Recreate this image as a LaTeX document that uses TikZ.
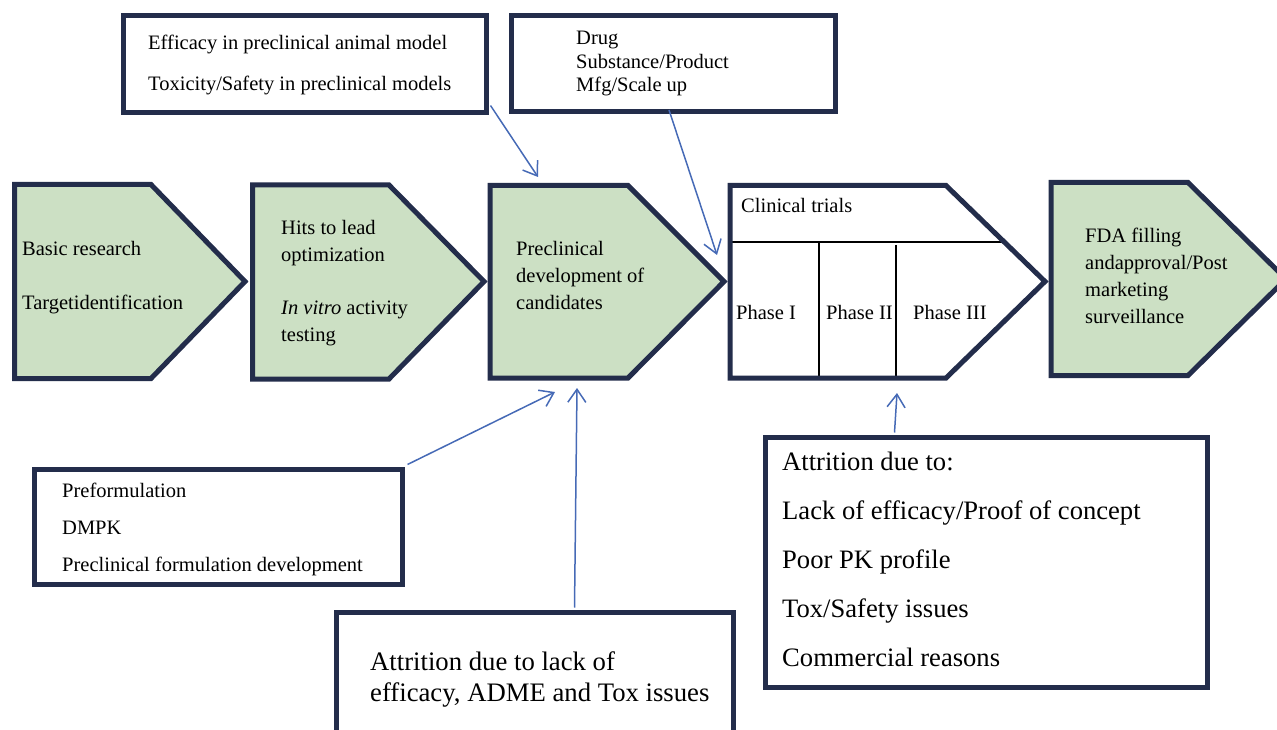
\documentclass[tikz,border=0pt]{standalone}
\usepackage{fontspec}
\setmainfont{Liberation Serif}
\usetikzlibrary{arrows.meta,calc}
\definecolor{navy}{RGB}{35,45,75}
\definecolor{sage}{RGB}{204,224,196}
\definecolor{arrowblue}{RGB}{70,106,182}
\begin{document}
\begin{tikzpicture}[x=1pt,y=-1pt,
  stage/.style={draw=navy,line width=5pt,fill=sage,line join=miter},
  trialshape/.style={draw=navy,line width=5pt,line join=miter},
  infobox/.style={draw=navy,line width=5pt,fill=white,inner sep=0pt},
  divider/.style={draw=black,line width=2pt},
  txt/.style={anchor=north west,inner sep=0pt,align=left,font=\fontsize{20.5}{27}\selectfont},
  bigtxt/.style={anchor=north west,inner sep=0pt,align=left,font=\fontsize{26.6}{49}\selectfont},
  link/.style={draw=arrowblue,line width=1.5pt,-{Straight Barb[length=13pt,width=18pt,line width=1.5pt]}}]
\useasboundingbox (0,0) rectangle (1277,730);
\clip (0,0) rectangle (1277,730);

% stage pentagons
\draw[stage] (14.5,184.5) -- (151,184.5) -- (245,281.5) -- (151,378.5) -- (14.5,378.5) -- cycle;
\draw[stage] (252.5,185) -- (389,185) -- (484,281.5) -- (389,379) -- (252.5,379) -- cycle;
\draw[stage] (490,185.5) -- (628,185.5) -- (724,281.5) -- (628,378) -- (490,378) -- cycle;
\fill[white] (730,185.5) -- (946,185.5) -- (1045,281.5) -- (946,378) -- (730,378) -- cycle;
\draw[divider] (730,242) -- (1004.5,242);
\draw[divider] (819,242) -- (819,378);
\draw[divider] (896,245) -- (896,378);
\draw[trialshape] (730,185.5) -- (946,185.5) -- (1045,281.5) -- (946,378) -- (730,378) -- cycle;
\draw[stage] (1051,182.5) -- (1188,182.5) -- (1286,279) -- (1188,375.5) -- (1051,375.5) -- cycle;

% stage texts
\node[txt] (basic) at (22,241) {Basic research\\[27pt]Targetidentification};
\node[txt] (hits) at (281,220) {Hits to lead\\optimization\\[26pt]\textit{In vitro} activity\\testing};
\node[txt] (precl) at (516,241) {Preclinical\\development of\\candidates};
\node[txt] (clin) at (741,198) {Clinical trials};
\node[txt] (ph1) at (736,305) {Phase I};
\node[txt] (ph2) at (826,305) {Phase II};
\node[txt] (ph3) at (913,305) {Phase III};
\node[txt] (fda) at (1085,228) {FDA filling\\andapproval/Post\\marketing\\surveillance};

% info boxes
\node[infobox,minimum width=363pt,minimum height=97pt] (efbox) at (305,64) {};
\node[txt] (eftext) at (148,35) {Efficacy in preclinical animal model\\[14pt]Toxicity/Safety in preclinical models};

\node[infobox,minimum width=324pt,minimum height=96pt] (drugbox) at (673.5,63.5) {};
\node[txt,font=\fontsize{20.5}{23.5}\selectfont] (drugtext) at (576,31) {Drug\\Substance/Product\\Mfg/Scale up};

\node[infobox,minimum width=368pt,minimum height=115pt] (formbox) at (218.5,527) {};
\node[txt] (formtext) at (62,483) {Preformulation\\[10pt]DMPK\\[10pt]Preclinical formulation development};

\node[infobox,minimum width=397pt,minimum height=150pt] (attrbox) at (535,687.5) {};
\node[txt,font=\fontsize{26.7}{31}\selectfont] (attrtext) at (370,651) {Attrition due to lack of\\efficacy, ADME and Tox issues};

\node[infobox,minimum width=442pt,minimum height=250pt] (attr2box) at (986.5,562.5) {};
\node[bigtxt] (attr2text) at (782,452) {Attrition due to:\\Lack of efficacy/Proof of concept\\Poor PK profile\\Tox/Safety issues\\Commercial reasons};

% connectors
\coordinate (e1) at (538,177);
\coordinate (e2) at (717,255);
\coordinate (e3) at (555,392);
\coordinate (e4) at (577,388);
\coordinate (e5) at (897,393);
\draw[link] ($(efbox.south east)+(1.5,-9.5)$) -- (e1);
\draw[link] ($(drugbox.south west)+(160,-4)$) -- (e2);
\draw[link] ($(formbox.north east)+(2.5,-2.5)$) -- (e3);
\draw[link] ($(attrbox.north west)+(240.5,-2.5)$) -- (e4);
\draw[link] ($(attr2box.north west)+(131.5,-2.5)$) -- (e5);
\end{tikzpicture}
\end{document}
